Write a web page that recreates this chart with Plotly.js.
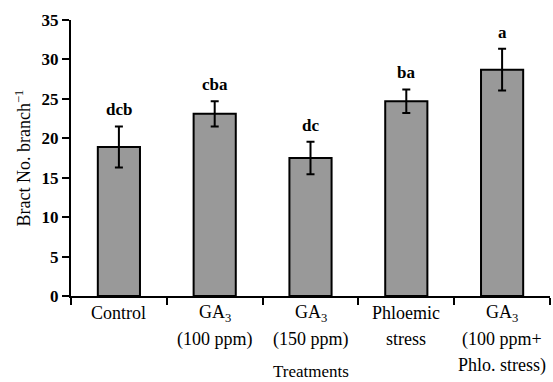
<!DOCTYPE html>
<html>
<head>
<meta charset="utf-8">
<script src="https://cdn.plot.ly/plotly-3.0.1.min.js"></script>
<style>html,body{margin:0;padding:0;background:#fff;}#chart{width:553px;height:382px;}</style>
</head>
<body>
<div id="chart"></div>
<script>
// Data
const categories = ["Control", "GA3 (100 ppm)", "GA3 (150 ppm)", "Phloemic stress", "GA3 (100 ppm+ Phlo. stress)"];
const labelLines = [
  ["Control"],
  ["GA<sub>3</sub>", "(100 ppm)"],
  ["GA<sub>3</sub>", "(150 ppm)"],
  ["Phloemic", "stress"],
  ["GA<sub>3</sub>", "(100 ppm+", "Phlo. stress)"]
];
const means = [18.9, 23.1, 17.5, 24.7, 28.7];
const errors = [2.6, 1.6, 2.05, 1.5, 2.65];
const letters = ["dcb", "cba", "dc", "ba", "a"];
const yTicks = [0, 5, 10, 15, 20, 25, 30, 35];

const font = "'Liberation Serif', 'Times New Roman', serif";

const trace = {
  type: "bar",
  x: categories,
  y: means,
  width: 0.44,
  marker: {color: "#999999", line: {color: "#000", width: 2}},
  error_y: {type: "data", array: errors, visible: true, color: "#000", thickness: 2, width: 4},
  hoverinfo: "none"
};

const annotations = [];
letters.forEach((t, i) => {
  annotations.push({
    x: categories[i], y: means[i] + errors[i], xref: "x", yref: "y",
    text: "<b>" + t + "</b>", showarrow: false, yanchor: "bottom", yshift: 5,
    font: {family: font, size: 17, color: "#000"}
  });
});
labelLines.forEach((lines, i) => {
  lines.forEach((ln, j) => {
    annotations.push({
      x: categories[i], y: 0, xref: "x", yref: "paper",
      text: ln, showarrow: false, yanchor: "middle", yshift: -17 - 26 * j,
      font: {family: font, size: 18, color: "#000"}
    });
  });
});
annotations.push({
  x: 0.5, y: 0, xref: "paper", yref: "paper",
  text: "Treatments", showarrow: false, yanchor: "middle", yshift: -75,
  font: {family: font, size: 17, color: "#000"}
});

const layout = {
  width: 553, height: 382,
  margin: {l: 71, r: 3, t: 20, b: 86},
  paper_bgcolor: "#fff", plot_bgcolor: "#fff",
  showlegend: false,
  font: {family: font, size: 18, color: "#000"},
  xaxis: {
    type: "category",
    range: [-0.5, 4.5],
    showticklabels: false,
    tickson: "boundaries",
    ticks: "outside", ticklen: 7, tickwidth: 2, tickcolor: "#000",
    showline: true, linecolor: "#000", linewidth: 2,
    showgrid: false, zeroline: false
  },
  yaxis: {
    range: [0, 35],
    tickvals: yTicks,
    ticktext: yTicks.map(v => "<b>" + v + "</b>"),
    ticks: "outside", ticklen: 7, tickwidth: 2, tickcolor: "#000",
    tickfont: {family: font, size: 17},
    showline: true, linecolor: "#000", linewidth: 2,
    showgrid: false, zeroline: false,
    title: {text: "Bract No. branch<sup>−1</sup>", font: {family: font, size: 18}, standoff: 6}
  },
  annotations: annotations
};

Plotly.newPlot("chart", [trace], layout, {staticPlot: true, displayModeBar: false});
</script>
</body>
</html>
